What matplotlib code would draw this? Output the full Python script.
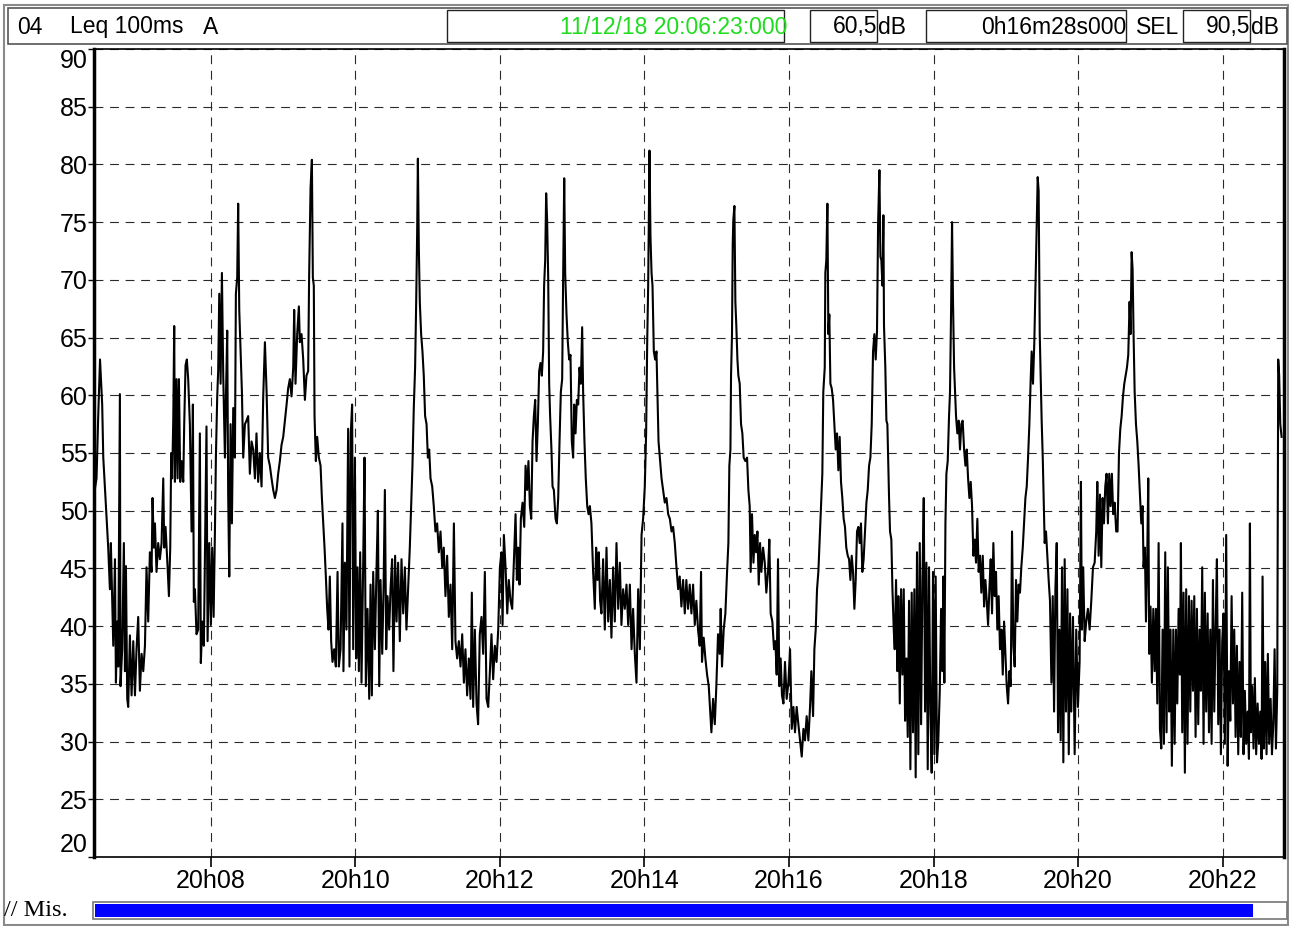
import matplotlib.pyplot as plt
from matplotlib.patches import Rectangle

plt.rcParams['font.family'] = ['Liberation Sans', 'DejaVu Sans']

# header values
channel = "04"
measure = "Leq 100ms"
weighting = "A"
start_label = "11/12/18 20:06:23:000"
leq_value = "60,5"
duration_label = "0h16m28s000"
sel_value = "90,5"
start_clock = 20 * 3600 + 6 * 60 + 23     # 20:06:23
duration_s = 16 * 60 + 28                 # 0h16m28s
tick_hour = 20
tick_minutes = [8, 10, 12, 14, 16, 18, 20, 22]
y_ticks = [20, 25, 30, 35, 40, 45, 50, 55, 60, 65, 70, 75, 80, 85, 90]

# (seconds from start, dB)
part_1 = [(0.9, 52.0), (2.1, 52.8), (3.5, 58.2), (5.0, 63.1), (6.8, 59.2), (7.7, 54.6), (9.0, 52.1), (10.4, 49.3),
          (11.8, 46.8), (13.2, 43.2), (14.0, 47.2), (15.1, 42.1), (16.0, 38.3), (17.4, 45.8), (18.2, 35.1),
          (19.3, 40.4), (20.1, 36.5), (21.5, 60.1), (22.0, 34.8), (23.4, 38.0), (24.8, 47.2), (25.7, 36.1),
          (26.5, 45.2), (27.6, 33.7), (28.4, 33.0), (29.8, 39.2), (31.2, 34.0), (32.6, 38.7), (34.0, 34.0),
          (35.3, 38.0), (36.7, 40.8), (38.1, 34.4), (39.5, 37.6), (40.9, 36.1), (42.3, 38.3), (43.6, 45.1),
          (45.0, 40.4), (46.4, 46.4), (47.8, 44.7), (48.6, 51.1), (49.7, 46.8), (50.6, 48.9), (51.9, 44.7),
          (53.3, 47.2), (54.7, 45.8), (56.1, 47.2), (57.5, 52.8), (58.3, 46.8), (59.4, 48.6), (61.1, 45.1),
          (62.2, 42.6), (63.3, 46.8), (64.1, 55.0), (64.9, 52.8), (65.8, 57.8), (66.6, 66.0), (67.2, 52.5),
          (68.5, 61.4), (69.4, 52.8), (70.5, 61.4), (71.6, 52.5), (72.7, 54.3), (74.1, 52.5), (74.9, 57.5),
          (76.0, 62.6), (77.1, 63.1), (78.2, 61.4), (79.6, 57.5), (81.0, 48.2), (82.1, 59.2), (82.9, 42.1),
          (83.8, 43.2), (85.1, 39.3), (86.5, 39.7), (87.9, 56.7), (88.7, 36.8), (89.9, 40.4), (91.2, 38.3),
          (93.4, 57.3), (94.3, 38.7), (95.7, 47.2), (97.0, 40.1), (98.1, 46.8), (99.3, 40.8), (100.4, 48.2),
          (101.2, 54.6), (102.3, 59.9), (103.1, 62.1), (104.0, 68.8), (105.1, 61.0), (106.2, 70.6), (107.3, 61.7),
          (108.7, 54.6), (109.5, 59.6), (110.6, 65.6), (111.4, 51.4), (112.3, 44.3), (113.4, 57.5), (114.5, 48.9),
          (115.6, 58.9), (117.0, 54.6), (117.8, 68.8), (118.9, 70.2), (119.7, 76.6), (120.6, 67.4), (121.7, 63.8),
          (122.8, 60.3), (123.9, 54.6), (125.3, 57.5), (126.6, 57.8), (128.0, 58.2), (129.4, 53.2), (130.8, 56.0),
          (132.2, 55.3), (133.6, 52.8), (134.9, 56.7), (136.3, 52.5), (137.7, 55.0), (139.1, 52.1), (140.5, 59.9),
          (141.9, 64.6), (143.3, 60.3), (144.6, 54.6), (146.0, 53.9), (147.4, 52.8), (148.8, 51.8), (150.2, 51.1),
          (151.6, 51.8), (152.9, 53.2), (154.3, 54.3), (155.7, 55.7), (157.1, 56.4), (158.5, 57.8), (159.9, 59.2),
          (161.2, 60.6), (162.6, 61.4), (164.0, 59.9), (165.4, 62.4), (166.2, 67.4)]

part_2 = [(167.3, 61.0), (168.7, 65.3), (170.1, 67.7), (170.9, 64.6), (172.3, 65.3), (173.7, 63.1), (175.1, 59.6),
          (176.4, 61.7), (177.8, 62.1), (178.6, 70.2), (179.8, 78.0), (180.9, 80.4), (181.7, 70.2), (182.5, 69.5),
          (183.1, 58.2), (184.2, 54.3), (185.3, 56.4), (186.7, 54.6), (188.1, 53.9), (189.2, 51.1), (190.3, 48.9),
          (191.4, 46.8), (192.5, 44.3), (193.6, 41.5), (194.7, 39.7), (195.8, 44.3), (196.9, 38.7), (198.0, 36.9),
          (199.4, 38.0), (200.8, 36.5), (202.2, 44.7), (203.3, 36.5), (204.7, 38.0), (206.3, 48.9), (207.1, 36.1),
          (208.3, 45.5), (209.6, 39.7), (211.0, 57.1), (212.1, 36.5), (213.2, 56.7), (214.3, 59.2), (215.2, 38.0),
          (216.6, 54.6), (217.7, 37.2), (218.8, 45.1), (219.9, 36.1), (221.0, 46.4), (222.1, 35.1), (223.5, 45.5),
          (224.6, 54.6), (225.7, 34.8), (227.1, 41.5), (228.5, 33.7), (229.6, 43.6), (230.7, 34.0), (231.8, 44.7),
          (233.2, 38.0), (234.5, 44.7), (235.7, 50.0), (236.8, 34.8), (237.9, 44.0), (239.3, 37.6), (240.4, 43.2),
          (241.5, 51.8), (242.6, 38.0), (243.7, 42.6), (245.1, 39.7), (246.2, 43.2), (247.5, 45.8), (248.6, 36.1),
          (250.0, 46.1), (251.2, 40.4), (252.5, 45.5), (253.9, 38.7), (255.3, 45.8), (256.7, 41.1), (258.1, 45.1),
          (259.4, 39.7), (260.8, 43.2), (262.2, 46.8), (263.3, 50.4), (264.4, 53.9), (265.5, 58.9), (266.6, 62.4),
          (267.5, 68.1), (268.3, 74.1), (268.9, 80.5), (269.7, 72.7), (270.5, 68.1), (271.6, 65.3), (272.7, 63.8),
          (273.8, 61.7), (274.9, 58.2), (276.1, 57.5), (277.2, 54.6), (278.3, 55.3), (279.4, 52.8), (280.8, 52.1),
          (282.1, 50.4), (283.5, 48.2), (284.9, 48.9), (286.3, 46.4), (287.7, 48.2), (289.1, 45.1), (290.4, 46.8),
          (291.8, 42.6), (293.2, 46.1), (294.6, 40.8), (296.0, 43.6), (297.4, 38.0), (298.8, 48.9), (300.1, 38.7),
          (301.5, 37.2), (302.9, 38.7), (304.3, 36.5), (305.7, 39.3), (307.1, 35.1), (308.4, 38.0), (309.8, 34.0),
          (311.2, 37.2), (312.6, 33.7), (313.7, 42.9), (314.8, 33.0), (316.2, 39.7), (317.6, 33.3), (318.9, 31.5),
          (320.3, 39.3), (321.7, 40.8), (323.1, 37.6), (324.5, 44.7)]

part_3 = [(325.9, 33.7), (327.3, 33.0), (328.7, 36.1), (330.0, 39.3), (331.4, 35.4), (332.8, 38.3), (334.2, 36.9),
          (335.6, 39.7), (337.0, 45.1), (338.3, 46.4), (339.2, 40.1), (340.3, 47.9), (341.7, 45.1), (343.1, 41.1),
          (344.4, 44.0), (345.8, 42.2), (347.2, 41.5), (348.6, 45.5), (350.0, 49.7), (351.1, 44.0), (352.2, 46.8),
          (353.3, 43.6), (354.4, 49.3), (355.8, 50.7), (357.2, 48.6), (358.3, 53.9), (359.6, 51.8), (360.7, 54.3),
          (361.9, 50.4), (363.0, 49.3), (364.1, 56.0), (365.2, 58.2), (366.3, 59.6), (367.4, 54.3), (368.5, 57.5),
          (369.6, 62.1), (370.7, 62.8), (371.8, 61.7), (372.9, 63.8), (373.7, 69.5), (374.6, 71.7), (375.4, 77.5),
          (376.2, 75.2), (377.1, 70.2), (377.9, 61.0), (378.7, 58.2), (379.8, 55.3), (380.7, 52.1), (381.8, 51.8),
          (383.2, 49.3), (384.3, 48.9), (385.4, 51.1), (386.5, 56.0), (387.6, 60.3), (388.7, 61.4), (389.5, 70.2),
          (390.4, 78.8), (391.2, 70.6), (392.3, 67.0), (393.4, 64.6), (394.5, 63.1), (395.6, 63.5), (396.7, 56.0),
          (397.8, 54.6), (398.7, 59.2), (399.8, 56.7), (400.9, 59.6), (402.0, 59.2), (403.1, 62.4), (404.2, 61.0),
          (405.3, 65.9), (406.1, 60.3), (407.2, 56.0), (408.3, 52.8), (409.5, 50.4), (410.6, 49.7), (411.7, 50.4),
          (413.0, 48.9), (414.4, 44.7), (415.8, 41.5), (416.9, 46.8), (418.0, 44.0), (419.1, 46.4), (420.2, 42.2),
          (421.3, 41.1), (422.7, 45.8), (424.1, 39.7), (425.5, 46.8), (426.9, 40.4), (428.3, 44.0), (429.6, 39.0),
          (431.0, 45.1), (432.4, 40.4), (433.8, 47.2), (435.2, 41.5), (436.6, 45.5), (437.9, 40.1), (439.3, 43.2),
          (440.7, 41.5), (442.1, 43.6), (443.5, 40.1), (444.9, 43.6), (446.3, 38.0), (447.6, 41.5), (449.0, 37.6),
          (450.4, 35.1), (451.8, 43.2), (453.2, 38.0), (454.6, 47.9), (455.9, 49.3), (457.3, 52.1), (458.4, 56.7),
          (459.3, 64.6), (460.1, 69.5), (461.2, 81.2), (462.0, 73.8), (462.9, 70.6), (463.7, 69.5), (464.8, 63.8),
          (465.9, 63.1), (467.0, 63.8), (467.8, 60.3), (468.7, 56.0), (469.8, 54.6), (471.2, 52.8), (472.5, 51.8),
          (473.9, 50.7), (475.3, 51.1), (476.7, 49.7), (478.1, 49.3), (479.5, 48.2), (480.8, 48.6), (482.2, 47.2),
          (483.6, 45.1), (485.0, 43.2)]

part_4 = [(486.3, 44.3), (487.7, 41.7), (489.1, 44.0), (490.5, 41.1), (491.8, 44.0), (493.2, 41.5), (494.6, 43.6),
          (496.0, 41.1), (497.4, 43.6), (498.8, 40.1), (500.1, 42.2), (501.5, 39.7), (502.9, 38.3), (504.0, 44.7),
          (504.8, 36.9), (506.2, 39.0), (507.6, 37.2), (509.0, 35.8), (510.4, 34.8), (511.8, 32.2), (512.6, 30.8),
          (514.0, 33.7), (515.4, 31.5), (516.7, 34.8), (518.1, 39.3), (519.5, 37.6), (520.3, 41.5), (521.4, 36.5),
          (522.8, 39.7), (524.2, 41.1), (525.6, 44.7), (526.7, 47.2), (527.5, 53.9), (528.4, 55.3), (528.9, 61.7),
          (529.7, 65.3), (530.3, 73.1), (530.8, 75.2), (531.7, 76.4), (532.5, 68.1), (533.3, 66.0), (534.2, 63.1),
          (535.0, 61.7), (536.1, 61.0), (537.2, 57.5), (538.3, 56.7), (539.4, 54.6), (540.8, 54.3), (542.2, 54.6),
          (543.3, 51.8), (544.4, 50.4), (545.2, 44.7), (546.3, 49.7), (547.5, 45.5), (548.6, 47.9), (549.7, 46.4),
          (550.8, 48.2), (551.9, 43.6), (553.0, 47.2), (554.1, 44.7), (555.5, 46.8), (556.9, 45.5), (558.2, 42.9),
          (559.6, 44.7), (560.7, 47.5), (561.8, 41.1), (563.2, 40.4), (564.6, 38.0), (565.7, 38.7), (566.8, 35.8),
          (567.9, 45.8), (569.0, 34.8), (570.1, 37.2), (571.2, 34.0), (572.4, 33.3), (573.7, 36.9), (575.1, 33.7),
          (576.5, 35.1), (577.9, 38.0), (579.3, 31.1), (580.7, 33.0), (582.0, 30.8), (583.4, 33.0), (584.8, 31.5),
          (586.2, 30.1), (587.6, 28.7), (589.0, 31.1), (590.3, 30.1), (591.7, 32.2), (593.1, 30.1), (594.5, 33.0),
          (595.6, 36.1), (597.0, 32.2), (598.1, 38.0), (599.2, 39.7), (600.3, 43.2), (601.4, 44.7), (602.5, 47.5),
          (603.6, 50.4), (604.7, 53.2), (605.5, 60.3), (606.7, 62.4), (607.2, 70.6), (608.0, 71.7), (608.9, 76.6),
          (609.7, 65.3), (610.5, 67.0), (611.4, 61.0), (612.5, 60.6), (613.6, 59.6), (614.7, 57.5), (615.8, 55.3),
          (616.9, 56.7), (618.0, 53.5), (619.1, 56.4), (620.2, 52.5), (621.3, 51.1), (622.4, 49.3), (623.5, 48.6),
          (624.6, 46.8), (625.8, 46.1), (626.9, 45.8), (628.0, 44.0), (629.1, 46.1), (630.2, 44.7), (631.3, 41.5),
          (632.4, 44.0), (633.5, 48.2), (634.6, 48.6), (635.7, 47.2), (636.8, 48.9), (637.9, 44.7), (639.0, 45.8),
          (640.1, 48.2), (641.3, 50.7), (642.4, 51.8), (643.5, 53.9), (644.6, 54.6), (645.7, 57.5), (646.8, 63.8),
          (647.9, 65.3)]

part_5 = [(649.0, 63.1), (650.1, 65.6), (651.0, 74.9), (652.1, 79.5), (652.9, 72.0), (653.7, 71.7), (654.6, 69.5),
          (655.4, 75.6), (655.9, 66.0), (657.0, 62.4), (657.9, 57.8), (658.7, 57.5), (659.3, 54.6), (660.1, 51.1),
          (660.9, 48.2), (662.0, 47.5), (662.9, 43.2), (664.0, 39.7), (664.8, 38.0), (665.9, 44.0), (667.0, 36.1),
          (667.8, 42.6), (669.0, 33.3), (670.1, 43.2), (671.2, 35.8), (672.3, 43.2), (673.4, 31.8), (674.5, 37.2),
          (675.6, 30.4), (676.7, 42.2), (677.8, 27.6), (678.9, 42.9), (680.0, 30.8), (681.1, 43.2), (682.2, 26.9),
          (683.3, 46.4), (684.4, 28.9), (685.6, 47.2), (686.7, 31.5), (687.8, 44.0), (688.9, 51.1), (690.0, 32.6),
          (691.1, 45.5), (692.2, 27.6), (693.3, 45.1), (694.4, 32.6), (695.5, 27.3), (696.6, 44.7), (697.7, 28.9),
          (698.8, 44.3), (699.9, 28.2), (701.0, 30.1), (702.2, 34.4), (703.3, 41.5), (704.4, 36.1), (705.2, 44.3),
          (706.0, 35.1), (706.9, 48.9), (707.7, 53.2), (708.8, 54.3), (709.9, 58.2), (710.7, 60.3), (711.6, 67.4),
          (712.4, 75.0), (713.2, 68.1), (714.1, 62.4), (714.9, 60.3), (715.7, 58.2), (716.8, 56.7), (717.9, 57.8),
          (719.0, 55.3), (720.1, 57.5), (721.2, 57.8), (722.4, 55.3), (723.5, 53.9), (724.6, 55.3), (725.7, 52.8),
          (726.8, 51.1), (727.9, 52.5), (729.0, 50.4), (730.1, 46.1), (731.2, 47.5), (732.3, 45.5), (733.4, 49.3),
          (734.5, 44.7), (735.6, 46.1), (736.7, 42.9), (737.9, 46.1), (739.0, 41.7), (740.1, 44.0), (741.2, 42.2),
          (742.3, 40.1), (743.4, 43.2), (744.5, 45.8), (745.6, 41.1), (746.7, 47.2), (747.8, 42.6), (748.9, 44.7),
          (750.0, 39.7), (751.1, 42.6), (752.2, 38.0), (753.4, 39.7), (754.5, 35.8), (755.6, 40.4), (756.7, 37.6),
          (757.8, 34.8), (758.9, 33.3), (760.0, 36.1), (761.1, 34.8), (762.2, 48.2), (763.3, 38.3), (764.4, 36.5),
          (765.5, 44.0), (766.6, 40.4), (767.7, 43.6), (768.8, 42.9), (769.9, 45.1), (771.1, 46.8), (772.2, 48.9),
          (773.3, 51.1), (774.4, 52.1), (775.5, 54.6), (776.6, 57.5), (777.7, 61.4), (778.5, 63.8), (779.6, 61.0),
          (780.7, 64.6), (781.8, 70.2), (782.7, 74.5), (783.5, 78.9), (784.3, 77.7), (785.2, 65.3), (786.0, 61.7),
          (786.8, 57.8), (787.7, 54.6), (788.5, 51.1), (789.3, 47.2), (790.4, 48.2), (791.5, 46.1), (792.6, 44.0),
          (793.7, 42.2), (794.9, 35.1), (796.0, 42.6), (797.1, 32.6), (798.2, 43.2), (799.3, 47.2), (800.4, 30.8),
          (801.5, 39.7), (802.6, 30.1), (803.7, 45.1), (804.8, 28.2), (805.9, 45.8), (807.0, 32.6), (808.2, 43.2),
          (809.3, 28.9), (810.4, 41.1)]

part_6 = [(811.4, 32.6), (812.8, 40.8), (814.2, 28.9), (815.5, 39.7), (816.9, 33.0), (818.3, 36.9), (819.4, 52.5),
          (820.2, 39.7), (821.3, 45.1), (822.5, 38.7), (823.8, 40.4), (825.2, 41.5), (826.6, 39.7), (828.0, 42.2),
          (829.4, 45.1), (830.8, 45.5), (832.1, 48.2), (833.0, 52.5), (834.1, 46.1), (835.2, 51.4), (836.3, 45.1),
          (837.4, 51.1), (838.5, 48.9), (839.6, 52.1), (840.7, 53.2), (841.8, 48.9), (842.9, 53.2), (844.0, 50.4),
          (845.1, 53.2), (846.2, 49.7), (847.4, 50.7), (848.7, 48.2), (849.8, 48.2), (851.0, 55.0), (852.1, 57.1),
          (853.2, 58.2), (854.3, 59.9), (855.4, 61.0), (856.5, 61.7), (857.6, 62.4), (858.7, 63.5), (859.8, 68.1),
          (860.6, 65.3), (861.5, 72.4), (862.3, 70.9), (863.1, 65.3), (864.0, 60.3), (865.1, 57.5), (866.2, 56.0),
          (867.3, 53.9), (868.4, 51.4), (869.5, 48.9), (870.6, 50.4), (871.4, 45.1), (872.5, 46.8), (873.4, 40.4),
          (874.5, 46.4), (875.3, 52.8), (876.1, 37.6), (877.2, 41.7), (878.3, 35.1), (879.5, 41.5), (880.6, 36.1),
          (881.7, 41.5), (882.8, 33.3), (883.9, 47.2), (885.0, 31.1), (886.1, 29.4), (887.2, 39.7), (888.3, 29.8),
          (889.4, 46.4), (890.5, 30.8), (891.6, 45.1), (892.7, 32.6), (893.8, 39.7), (894.9, 27.9), (896.1, 39.7),
          (897.2, 29.8), (898.3, 39.7), (899.4, 33.3), (900.5, 41.5), (901.6, 35.8), (902.4, 47.2), (903.5, 30.8),
          (904.6, 42.9), (905.7, 27.3), (906.8, 43.2), (907.9, 29.8), (909.1, 42.6), (910.2, 32.6), (911.3, 42.2),
          (912.4, 34.4), (913.5, 42.6), (914.6, 30.4), (915.7, 41.5), (916.8, 31.5), (917.9, 39.7), (919.0, 34.4),
          (920.1, 45.1), (921.2, 29.8), (922.3, 42.9), (923.4, 32.6), (924.6, 41.1), (925.7, 30.8), (926.8, 39.7),
          (927.9, 29.8), (929.0, 44.0), (930.1, 32.6), (931.2, 39.7), (932.3, 45.8), (933.4, 31.5), (934.5, 39.7),
          (935.6, 28.9), (936.7, 38.7), (937.8, 41.1), (938.9, 29.8), (940.0, 47.9), (941.2, 27.9), (942.3, 36.1),
          (943.4, 31.8), (944.5, 42.6), (945.6, 33.3), (946.7, 39.7), (947.8, 30.4), (948.9, 38.3), (950.0, 28.9),
          (951.1, 36.9), (952.2, 30.4), (953.3, 42.9), (954.4, 28.9), (955.5, 34.4), (956.6, 29.8), (957.8, 32.6),
          (958.9, 28.5), (959.7, 48.9), (960.5, 30.8), (961.6, 34.8), (962.7, 29.4), (963.8, 35.5), (964.9, 28.9),
          (966.1, 33.3), (967.2, 29.8), (968.3, 32.6), (969.4, 28.5), (970.2, 44.3), (971.3, 29.4), (972.4, 36.9),
          (973.5, 28.9), (974.6, 37.6), (975.7, 29.8), (976.9, 33.7), (978.0, 28.9), (979.1, 31.5), (980.2, 38.0),
          (981.3, 29.4), (982.4, 34.4), (983.2, 63.1), (984.0, 61.7), (984.9, 57.5), (986.0, 56.4)]

trace = part_1 + part_2 + part_3 + part_4 + part_5 + part_6
t = [p[0] for p in trace]
level = [p[1] for p in trace]

W, H = 1289, 926
fig = plt.figure(figsize=(W / 100, H / 100), dpi=100)

# frame, header boxes and bottom bar, drawn in pixel coordinates
deco = fig.add_axes([0, 0, 1, 1], zorder=-1)
deco.set_xlim(0, W)
deco.set_ylim(H, 0)
deco.axis('off')
deco.add_patch(Rectangle((4, 5), 1284, 920, fill=False, edgecolor='#8a8a8a', lw=1.5))
deco.add_patch(Rectangle((8, 8), 1279, 36, facecolor='white', edgecolor='#555555', lw=1.2))
for x0, x1 in [(447, 784), (810, 877), (926, 1126), (1183, 1250)]:
    deco.add_patch(Rectangle((x0, 10), x1 - x0, 32, facecolor='white', edgecolor='#222222', lw=1))
fs = 16.5
yh = 27
deco.text(17, yh, channel, fontsize=fs, va='center')
deco.text(70, yh, measure, fontsize=fs, va='center')
deco.text(203, yh, weighting, fontsize=fs, va='center')
deco.text(787, yh, start_label, fontsize=fs, va='center', ha='right', color='#1fdc1f')
deco.text(877, yh, leq_value, fontsize=fs, va='center', ha='right')
deco.text(878, yh, "dB", fontsize=fs, va='center', ha='left')
deco.text(1126, yh, duration_label, fontsize=fs, va='center', ha='right')
deco.text(1136, yh, "SEL", fontsize=fs, va='center', ha='left')
deco.text(1250, yh, sel_value, fontsize=fs, va='center', ha='right')
deco.text(1251, yh, "dB", fontsize=fs, va='center', ha='left')
deco.text(4, 911, "// Mis.", fontsize=17.5, va='center', family=['Liberation Serif', 'DejaVu Serif'])
deco.add_patch(Rectangle((93, 902), 1194, 17, facecolor='white', edgecolor='#777777', lw=1.2))
deco.add_patch(Rectangle((95, 904), 1158, 13, facecolor='#0000ff', edgecolor='none'))

# main time plot
ax = fig.add_axes([94 / W, 1 - 857 / H, (1284 - 94) / W, (857 - 49) / H])
ax.plot(t, level, color='black', lw=1.5)
ax.set_xlim(0, duration_s)
ax.set_ylim(20, 90)

xt = [tick_hour * 3600 + m * 60 - start_clock for m in tick_minutes]
ax.set_xticks(xt, [f"{tick_hour}h{m:02d}" for m in tick_minutes])
ax.set_yticks(y_ticks, [str(v) for v in y_ticks])
ax.grid(True, color='#2a2a2a', lw=0.8, linestyle=(0, (8, 6)))
ax.tick_params(axis='x', direction='out', length=7, width=1.2, pad=2, labelsize=18)
ax.tick_params(axis='y', direction='out', length=4, width=1, pad=0.5, labelsize=18)
for lbl in ax.get_yticklabels():
    if lbl.get_text() == str(y_ticks[-1]):
        lbl.set_va('top')
    elif lbl.get_text() == str(y_ticks[0]):
        lbl.set_va('bottom')
for side in ['top', 'bottom']:
    ax.spines[side].set_linewidth(1.2)
ax.spines['left'].set_linewidth(2.5)
ax.spines['right'].set_linewidth(2.5)

fig.savefig('out.png', dpi=100)
